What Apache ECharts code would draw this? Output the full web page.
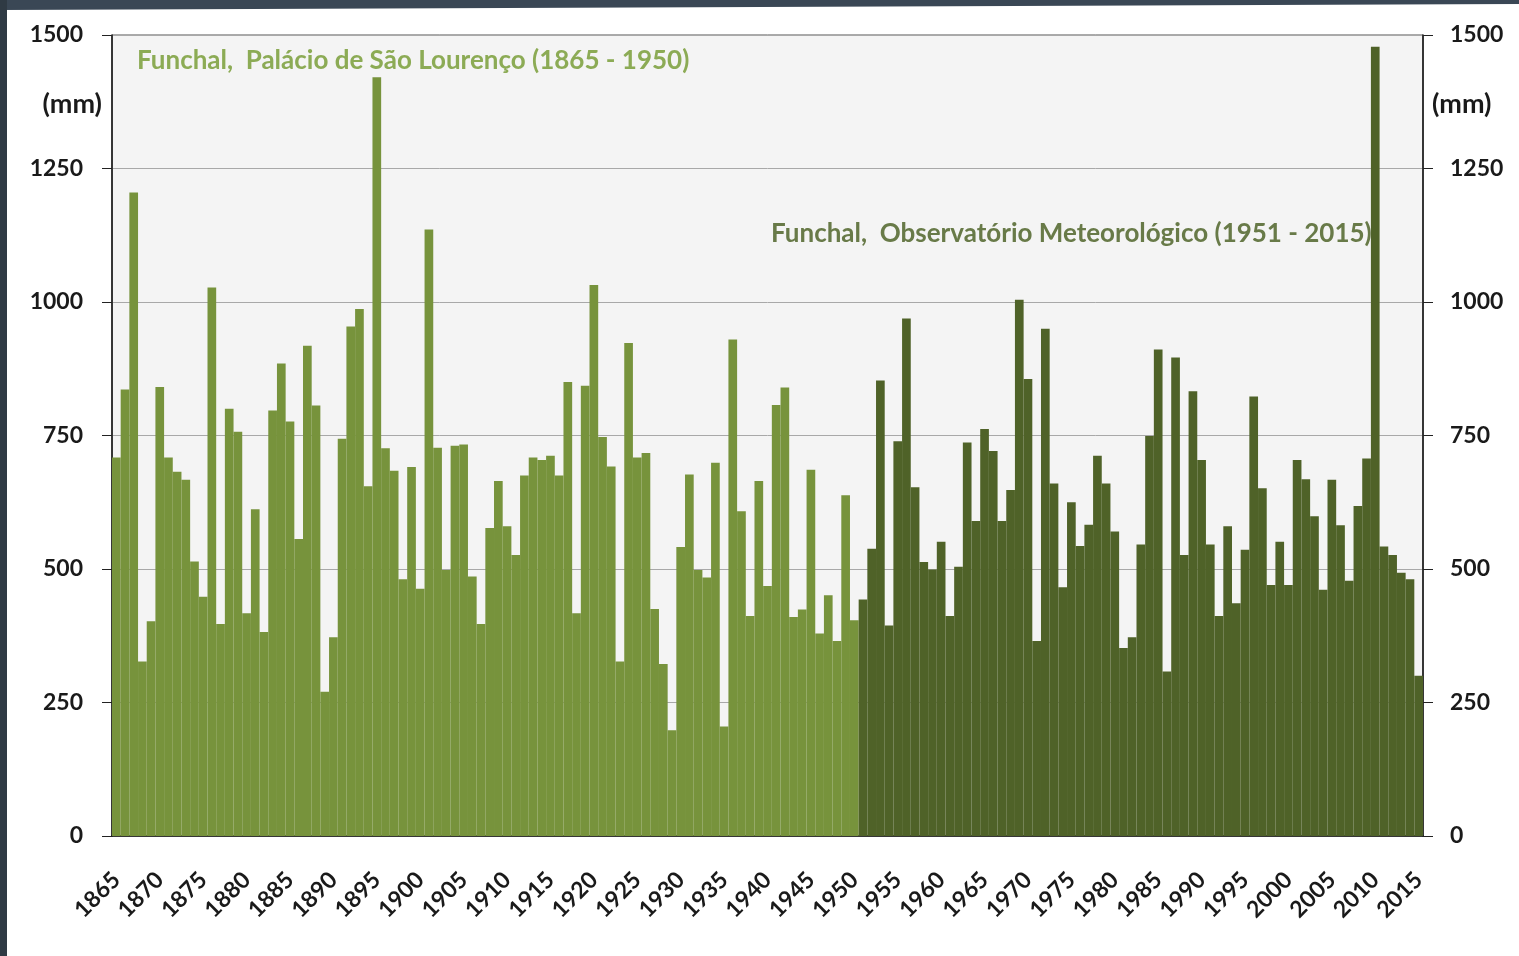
<!DOCTYPE html>
<html>
<head>
<meta charset="utf-8">
<script src="https://cdn.jsdelivr.net/npm/echarts@6/dist/echarts.min.js"></script>
<style>
  html, body { margin: 0; padding: 0; background: #fff; }
  #chart { width: 1519px; height: 956px; }
</style>
</head>
<body>
<div id="chart"></div>
<script>
// annual precipitation in Funchal (mm)
const firstYear = 1865
const lastYear = 2015
const years = []
for (let y = firstYear; y <= lastYear; y++) years.push(String(y))

// Palácio de São Lourenço, 1865 - 1950
const palacio = [
  709, 836, 1205, 327, 402, 841, 709, 682, 667, 514,
  448, 1027, 397, 800, 757, 417, 612, 382, 797, 885,
  776, 556, 918, 806, 270, 372, 744, 954, 987, 655,
  1421, 726, 684, 481, 691, 463, 1136, 727, 498, 731,
  733, 486, 397, 577, 665, 580, 526, 675, 709, 704,
  712, 675, 850, 417, 843, 1032, 747, 692, 327, 923,
  709, 717, 425, 322, 198, 541, 677, 498, 484, 699,
  205, 930, 608, 412, 665, 468, 807, 840, 410, 424,
  686, 379, 451, 365, 638, 404
]

// Observatório Meteorológico, 1951 - 2015
const observatorio = [
  443, 538, 853, 394, 739, 969, 653, 513, 499, 551,
  412, 504, 737, 590, 762, 721, 590, 648, 1004, 856,
  365, 950, 660, 466, 625, 543, 583, 712, 660, 570,
  352, 372, 546, 749, 911, 308, 896, 526, 833, 704,
  546, 412, 580, 436, 536, 823, 651, 470, 551, 470,
  704, 668, 599, 461, 667, 582, 478, 618, 707, 1478,
  542, 526, 493, 481, 300
]

const yTicks = { min: 0, max: 1500, interval: 250 }

const font = 'Lato, "Open Sans", sans-serif'
const tickText = { color: '#1a1a1a', fontFamily: font, fontWeight: 'bold', fontSize: 23 }

const palacioData = palacio.concat(new Array(observatorio.length).fill('-'))
const observatorioData = new Array(palacio.length).fill('-').concat(observatorio)

const chart = echarts.init(document.getElementById('chart'))

function valueAxis(position, margin, split) {
  return {
    type: 'value',
    position: position,
    min: yTicks.min,
    max: yTicks.max,
    interval: yTicks.interval,
    axisLine: { show: true, lineStyle: { color: '#111', width: 1.5 } },
    axisTick: { show: true, length: 10, lineStyle: { color: '#222' } },
    axisLabel: Object.assign({ margin: margin, formatter: (v) => String(v) }, tickText),
    splitLine: { show: split, lineStyle: { color: '#a8a8a8', width: 1 } },
  }
}

chart.setOption({
  animation: false,
  backgroundColor: '#fff',
  grid: {
    left: 112, right: 96, top: 35, bottom: 120,
    show: true, backgroundColor: '#f4f4f4', borderColor: '#555', borderWidth: 1,
  },
  xAxis: {
    type: 'category',
    data: years,
    axisLine: { lineStyle: { color: '#111', width: 1.5 } },
    axisTick: { interval: 0, length: 9, lineStyle: { color: '#222' } },
    axisLabel: Object.assign({ interval: 4, rotate: 45, margin: 40 }, tickText),
  },
  yAxis: [valueAxis('left', 29, true), valueAxis('right', 27, false)],
  series: [
    {
      name: 'Palácio de São Lourenço',
      type: 'bar',
      data: palacioData,
      barCategoryGap: '0%',
      barGap: '-100%',
      itemStyle: { color: '#77933c' },
    },
    {
      name: 'Observatório Meteorológico',
      type: 'bar',
      data: observatorioData,
      barCategoryGap: '0%',
      barGap: '-100%',
      itemStyle: { color: '#4f6228' },
    },
  ],
  graphic: [
    // dark frame of the original slide
    { type: 'polygon', shape: { points: [[0, 0], [1519, 0], [1519, 4], [0, 10]] }, style: { fill: '#3a4755' } },
    { type: 'rect', shape: { x: 0, y: 0, width: 7, height: 956 }, style: { fill: '#2f3a44' } },
    {
      type: 'text', x: 102, y: 104,
      style: { text: '(mm)', fill: '#1a1a1a', fontFamily: font, fontWeight: 'bold', fontSize: 27, align: 'right', verticalAlign: 'middle' },
    },
    {
      type: 'text', x: 1432, y: 104,
      style: { text: '(mm)', fill: '#1a1a1a', fontFamily: font, fontWeight: 'bold', fontSize: 27, align: 'left', verticalAlign: 'middle' },
    },
    {
      type: 'text', x: 137, y: 61,
      style: { text: 'Funchal,  Palácio de São Lourenço (1865 - 1950)', fill: '#8cab55', fontFamily: font, fontWeight: 'bold', fontSize: 26, align: 'left', verticalAlign: 'middle' },
    },
    {
      type: 'text', x: 771, y: 234,
      style: { text: 'Funchal,  Observatório Meteorológico (1951 - 2015)', fill: '#687a48', fontFamily: font, fontWeight: 'bold', fontSize: 26, align: 'left', verticalAlign: 'middle' },
    },
  ],
})
</script>
</body>
</html>
